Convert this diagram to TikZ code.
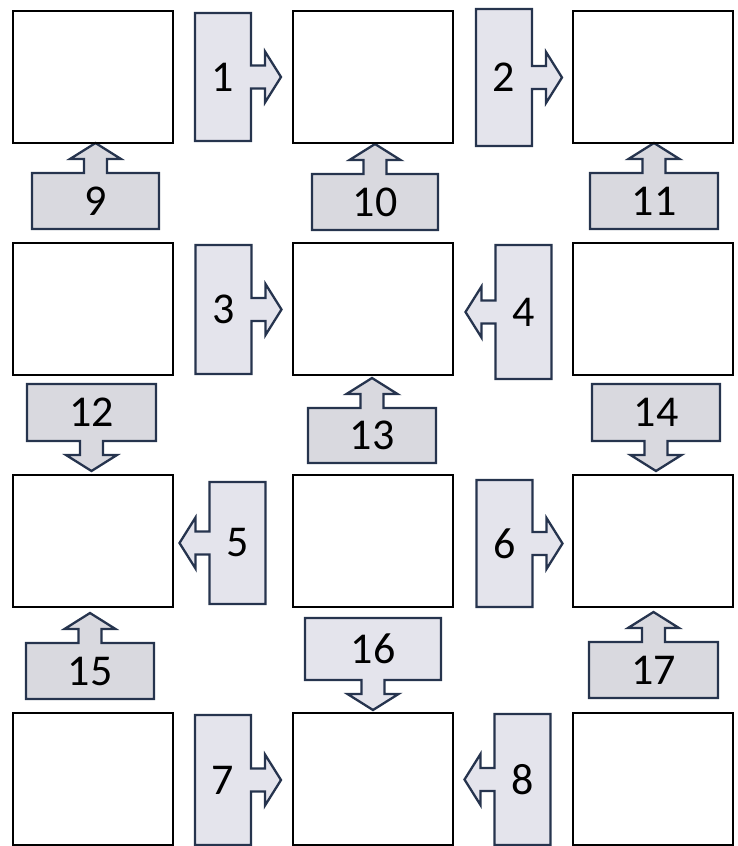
\documentclass[tikz,border=0pt]{standalone}
\usepackage{fontspec}
\setmainfont{Carlito}
\usetikzlibrary{calc,backgrounds}
\definecolor{gridline}{RGB}{0,0,0}
\definecolor{callnavy}{RGB}{38,52,78}
\definecolor{calllight}{RGB}{228,228,236}
\definecolor{calldark}{RGB}{217,217,223}

% arrow callouts drawn round a label node, behind its text
\newcommand{\calloutR}[2]{%
  \begin{scope}[on background layer]
    \draw[callout, fill=#2] (#1.north west) -- (#1.north east) -- ($(#1.east)+(0,-11.5)$)
      -- ++(14,0) -- ++(0,-14) -- ++(16,25.5) -- ++(-16,25.5) -- ++(0,-14) -- ++(-14,0)
      -- (#1.south east) -- (#1.south west) -- cycle;
  \end{scope}}
\newcommand{\calloutL}[2]{%
  \begin{scope}[on background layer]
    \draw[callout, fill=#2] (#1.north east) -- (#1.north west) -- ($(#1.west)+(0,-11.5)$)
      -- ++(-14,0) -- ++(0,-14) -- ++(-16,25.5) -- ++(16,25.5) -- ++(0,-14) -- ++(14,0)
      -- (#1.south west) -- (#1.south east) -- cycle;
  \end{scope}}
\newcommand{\calloutU}[2]{%
  \begin{scope}[on background layer]
    \draw[callout, fill=#2] (#1.south west) -- (#1.north west) -- ($(#1.north)+(-11.5,0)$)
      -- ++(0,-14) -- ++(-14,0) -- ++(25.5,-16) -- ++(25.5,16) -- ++(-14,0) -- ++(0,14)
      -- (#1.north east) -- (#1.south east) -- cycle;
  \end{scope}}
\newcommand{\calloutD}[2]{%
  \begin{scope}[on background layer]
    \draw[callout, fill=#2] (#1.north west) -- (#1.south west) -- ($(#1.south)+(-11.5,0)$)
      -- ++(0,14) -- ++(-14,0) -- ++(25.5,16) -- ++(25.5,-16) -- ++(-14,0) -- ++(0,-14)
      -- (#1.south east) -- (#1.north east) -- cycle;
  \end{scope}}

\begin{document}
\begin{tikzpicture}[
    x=1pt, y=-1pt,
    cell/.style={draw=gridline, line width=2.6pt, minimum width=160pt, minimum height=132pt, inner sep=0pt, outer sep=0pt},
    tag/.style={inner sep=0pt, outer sep=0pt, font=\fontsize{44}{44}\selectfont},
    tall/.style={tag, minimum width=56pt, minimum height=#1},
    wide/.style={tag, minimum height=56pt, minimum width=#1},
    callout/.style={draw=callnavy, line width=2.3pt, line join=miter}
  ]
  \useasboundingbox (0,0) rectangle (737,846);

  % grid of boxes
  \node[cell] (b11) at (93,77) {};
  \node[cell] (b12) at (373,77) {};
  \node[cell] (b13) at (653,77) {};
  \node[cell] (b21) at (93,309) {};
  \node[cell] (b22) at (373,309) {};
  \node[cell] (b23) at (653,309) {};
  \node[cell] (b31) at (93,541) {};
  \node[cell] (b32) at (373,541) {};
  \node[cell] (b33) at (653,541) {};
  \node[cell] (b41) at (93,779) {};
  \node[cell] (b42) at (373,779) {};
  \node[cell] (b43) at (653,779) {};

  % sideways callouts
  \node[tall=128pt] (c1) at (223,77) {1};
  \node[tall=137pt] (c2) at (504,77.5) {2};
  \node[tall=129pt] (c3) at (223.5,309.5) {3};
  \node[tall=134pt] (c4) at (523.5,312) {4};
  \node[tall=122pt] (c5) at (237.5,543) {5};
  \node[tall=127pt] (c6) at (504.5,543.5) {6};
  \node[tall=130pt] (c7) at (223,780) {7};
  \node[tall=131pt] (c8) at (522.5,779.5) {8};
  \calloutR{c1}{calllight}
  \calloutR{c2}{calllight}
  \calloutR{c3}{calllight}
  \calloutL{c4}{calllight}
  \calloutL{c5}{calllight}
  \calloutR{c6}{calllight}
  \calloutR{c7}{calllight}
  \calloutL{c8}{calllight}

  % up and down callouts
  \node[wide=127pt] (c9) at (95.5,201) {9};
  \node[wide=126pt] (c10) at (375,202) {10};
  \node[wide=128pt] (c11) at (654,201) {11};
  \node[wide=129pt, minimum height=57pt] (c12) at (91.5,412.5) {12};
  \node[wide=128pt, minimum height=55pt] (c13) at (372,435.5) {13};
  \node[wide=128pt, minimum height=57pt] (c14) at (656,412.5) {14};
  \node[wide=128pt] (c15) at (90,671) {15};
  \node[wide=136pt, minimum height=62pt] (c16) at (373,649) {16};
  \node[wide=129pt] (c17) at (653.5,670) {17};
  \calloutU{c9}{calldark}
  \calloutU{c10}{calldark}
  \calloutU{c11}{calldark}
  \calloutD{c12}{calldark}
  \calloutU{c13}{calldark}
  \calloutD{c14}{calldark}
  \calloutU{c15}{calldark}
  \calloutD{c16}{calllight}
  \calloutU{c17}{calldark}
\end{tikzpicture}
\end{document}
